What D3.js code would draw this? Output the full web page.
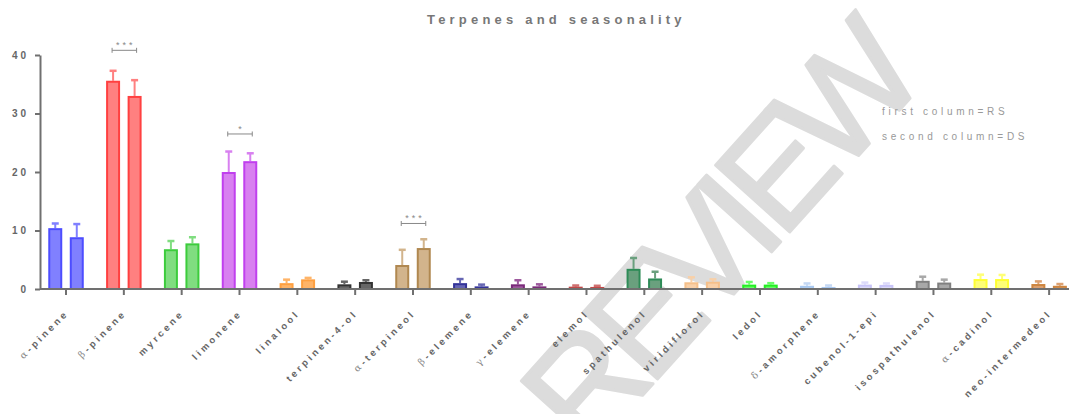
<!DOCTYPE html>
<html>
<head>
<meta charset="utf-8">
<script src="https://cdnjs.cloudflare.com/ajax/libs/d3/7.8.5/d3.min.js"></script>
<style>
  body { margin: 0; background: #fff; }
  svg { display: block; font-family: "Liberation Sans", Arial, sans-serif; }
</style>
</head>
<body>
<div id="chart"></div>
<script>
// categories on the x axis
const categories = ["α-pinene", "β-pinene", "myrcene", "limonene", "linalool", "terpinen-4-ol",
  "α-terpineol", "β-elemene", "γ-elemene", "elemol", "spathulenol", "viridiflorol", "ledol",
  "δ-amorphene", "cubenol-1-epi", "isospathulenol", "α-cadinol", "neo-intermedeol"];

// first column = RS, second column = DS (mean and upper error)
const rsMean = [10.4, 35.6, 6.8, 20.0, 1.0, 0.8, 4.1, 1.0, 0.8, 0.4, 3.45, 1.15, 0.75, 0.55, 0.75, 1.4, 1.7, 0.85];
const rsErr  = [0.8, 1.7, 1.4, 3.5, 0.6, 0.45, 2.6, 0.7, 0.7, 0.2, 1.85, 0.85, 0.45, 0.4, 0.35, 0.7, 0.75, 0.45];
const dsMean = [8.85, 33.0, 7.8, 21.85, 1.65, 1.2, 7.0, 0.45, 0.45, 0.35, 1.8, 1.25, 0.75, 0.35, 0.7, 1.1, 1.7, 0.55];
const dsErr  = [2.25, 2.7, 1.05, 1.35, 0.25, 0.3, 1.5, 0.3, 0.35, 0.2, 1.15, 0.4, 0.25, 0.25, 0.25, 0.5, 0.7, 0.3];

// bar colours per category (outline, fill)
const strokeColors = ["#4d4dff", "#ff4040", "#3ccc3c", "#c040ee", "#ffa040", "#333333", "#b08850", "#333399",
  "#7a2a7a", "#c04848", "#2e8b57", "#f5c08a", "#22ee22", "#a8c8f0", "#c8c4f8", "#808080", "#ffff33", "#cd853f"];
const fillColors = ["#8080ff", "#ff8080", "#80dd80", "#d880f0", "#ffb468", "#666666", "#d2b48c", "#6666b3",
  "#9e5a9e", "#d07070", "#6aa07e", "#f8d0a8", "#66ff66", "#c4d8f4", "#dcdafa", "#a8a8a8", "#ffff77", "#dca070"];

// significance brackets
const sigCats = ["β-pinene", "limonene", "α-terpineol"];
const sigLabels = ["***", "*", "***"];
const sigLevels = [40.8, 26.5, 11.2];

const yTicks = [0, 10, 20, 30, 40];
const legendLines = ["first column=RS", "second column=DS"];

const width = 1069, height = 414;
const axisColor = "#707070";

const svg = d3.select("#chart").append("svg")
    .attr("width", width)
    .attr("height", height);

// watermark behind everything
svg.append("text")
    .attr("transform", "translate(922,85) rotate(-48)")
    .attr("text-anchor", "end")
    .attr("font-size", 145)
    .attr("fill", "#dcdcdc")
    .attr("stroke", "#dcdcdc")
    .attr("stroke-width", 3)
    .attr("stroke-linejoin", "round")
    .style("letter-spacing", "-12px")
    .text("FOR PEER REVIEW");

const x = d3.scaleBand()
    .domain(categories)
    .range([37.1, 37.1 + 57.83 * categories.length])
    .padding(0);

const xSub = d3.scaleBand()
    .domain(["RS", "DS"])
    .range([-17.75, 17.75])
    .paddingInner(0.35);

const y = d3.scaleLinear()
    .domain([0, 40])
    .range([289, 55]);

const rows = [];
categories.forEach(function(c, i) {
    rows.push({cat: c, key: "RS", value: rsMean[i], err: rsErr[i], i: i});
    rows.push({cat: c, key: "DS", value: dsMean[i], err: dsErr[i], i: i});
});

function barCenter(d) {
    return x(d.cat) + x.bandwidth() / 2 + xSub(d.key) + xSub.bandwidth() / 2;
}

// error bars (upper only)
const errG = svg.append("g").attr("class", "errors");
errG.selectAll("line.stem")
    .data(rows)
    .enter().append("line")
    .attr("class", "stem")
    .attr("x1", barCenter)
    .attr("x2", barCenter)
    .attr("y1", function(d) { return y(d.value); })
    .attr("y2", function(d) { return y(d.value + d.err); })
    .attr("stroke", function(d) { return fillColors[d.i]; })
    .attr("stroke-width", 2);

errG.selectAll("line.cap")
    .data(rows)
    .enter().append("line")
    .attr("class", "cap")
    .attr("x1", function(d) { return barCenter(d) - 3.5; })
    .attr("x2", function(d) { return barCenter(d) + 3.5; })
    .attr("y1", function(d) { return y(d.value + d.err); })
    .attr("y2", function(d) { return y(d.value + d.err); })
    .attr("stroke", function(d) { return fillColors[d.i]; })
    .attr("stroke-width", 2.5);

// bars
svg.append("g").attr("class", "bars")
    .selectAll("rect")
    .data(rows)
    .enter().append("rect")
    .attr("x", function(d) { return barCenter(d) - xSub.bandwidth() / 2 + 1; })
    .attr("width", xSub.bandwidth() - 2)
    .attr("y", function(d) { return y(d.value) + 1; })
    .attr("height", function(d) { return Math.max(0, y(0) - y(d.value) - 1); })
    .attr("fill", function(d) { return fillColors[d.i]; })
    .attr("stroke", function(d) { return strokeColors[d.i]; })
    .attr("stroke-width", 2);

// y axis
const yAxis = svg.append("g")
    .attr("transform", "translate(40,0)")
    .call(d3.axisLeft(y).tickValues(yTicks).tickSize(5).tickSizeOuter(0).tickPadding(6));
yAxis.select(".domain").attr("stroke", axisColor).attr("stroke-width", 2);
yAxis.selectAll(".tick line").attr("stroke", axisColor).attr("stroke-width", 2);
yAxis.selectAll(".tick text")
    .attr("fill", "#666")
    .attr("font-size", 10)
    .attr("font-weight", "bold")
    .attr("font-family", "Liberation Sans, Arial, sans-serif")
    .style("letter-spacing", "3px");

// x axis
const xAxis = svg.append("g")
    .attr("transform", "translate(0,289)")
    .call(d3.axisBottom(x).tickSize(6).tickSizeOuter(0).tickFormat(""));
xAxis.select(".domain").attr("d", "M40,0H" + width).attr("stroke", axisColor).attr("stroke-width", 2);
xAxis.selectAll(".tick line").attr("stroke", axisColor).attr("stroke-width", 2);

// rotated category labels
const labels = svg.append("g").attr("class", "xlabels")
    .selectAll("text")
    .data(categories)
    .enter().append("text")
    .attr("transform", function(d) {
        return "translate(" + (x(d) + x.bandwidth() / 2 + 3) + ",314) rotate(-45)";
    })
    .attr("text-anchor", "end")
    .attr("fill", "#666")
    .attr("font-size", 9.5)
    .attr("font-weight", "bold")
    .style("letter-spacing", "3px");

labels.each(function(d) {
    const t = d3.select(this);
    const first = d.charAt(0);
    if ("αβγδ".indexOf(first) >= 0) {
        t.append("tspan").attr("font-weight", "normal").attr("fill", "#888")
            .attr("font-family", "DejaVu Serif").text(first);
        t.append("tspan").text(d.slice(1));
    } else {
        t.text(d);
    }
});

// significance brackets
sigCats.forEach(function(c, k) {
    const x1 = barCenter({cat: c, key: "RS"}) - 1;
    const x2 = barCenter({cat: c, key: "DS"}) + 2;
    const yy = y(sigLevels[k]);
    const g = svg.append("g").attr("class", "sig");
    g.append("path")
        .attr("d", "M" + x1 + "," + (yy - 2.5) + "V" + (yy + 2.5) + "M" + x1 + "," + yy + "H" + x2 +
              "M" + x2 + "," + (yy - 2.5) + "V" + (yy + 2.5))
        .attr("fill", "none")
        .attr("stroke", "#888")
        .attr("stroke-width", 1);
    g.append("text")
        .attr("x", (x1 + x2) / 2 + 1.5)
        .attr("y", yy - 2)
        .attr("text-anchor", "middle")
        .attr("fill", "#888")
        .attr("font-size", 9)
        .style("letter-spacing", "3px")
        .text(sigLabels[k]);
});

// title
svg.append("text")
    .attr("x", 427)
    .attr("y", 24)
    .attr("fill", "#777")
    .attr("font-size", 13)
    .attr("font-weight", "bold")
    .style("letter-spacing", "4.2px")
    .text("Terpenes and seasonality");

// legend note
svg.append("g").selectAll("text")
    .data(legendLines)
    .enter().append("text")
    .attr("x", 882)
    .attr("y", function(d, i) { return 115 + i * 25; })
    .attr("fill", "#999")
    .attr("font-size", 10)
    .style("letter-spacing", "3.7px")
    .text(function(d) { return d; });
</script>
</body>
</html>
